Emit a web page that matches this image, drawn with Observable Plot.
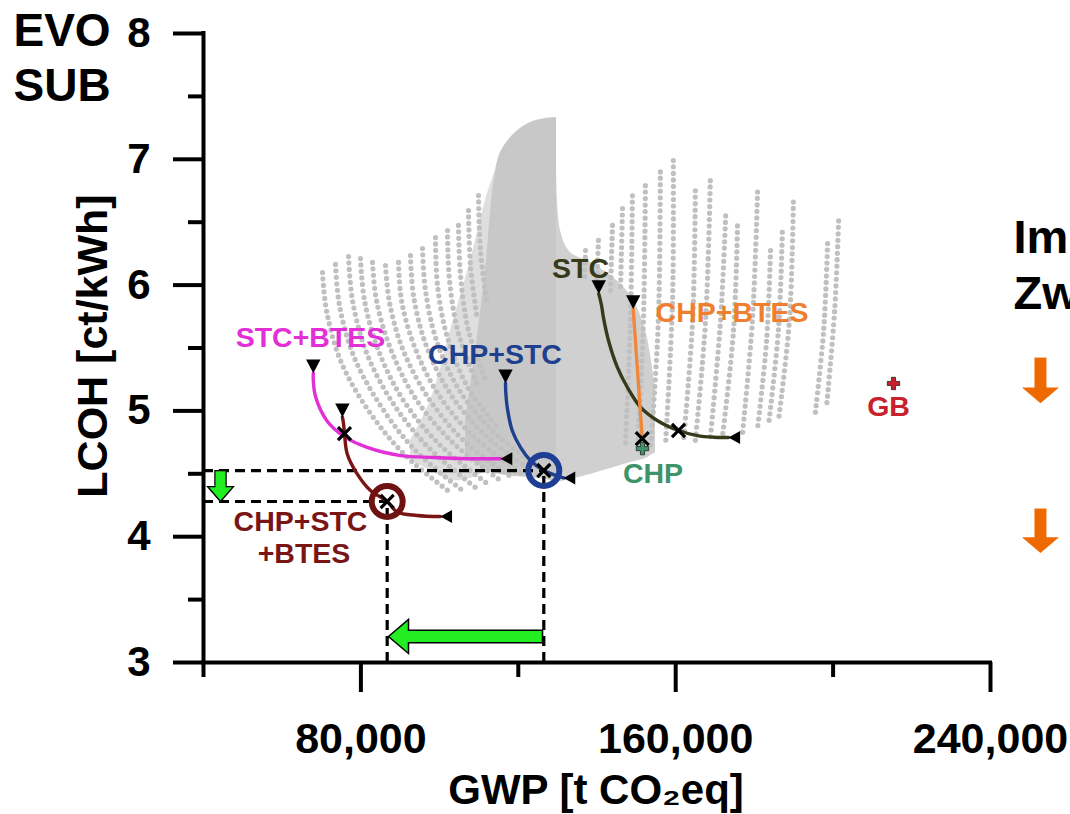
<!DOCTYPE html>
<html>
<head>
<meta charset="utf-8">
<script src="https://cdn.jsdelivr.net/npm/d3@7"></script>
<script src="https://cdn.jsdelivr.net/npm/@observablehq/plot@0.6"></script>
<style>
  html, body { margin: 0; padding: 0; background: #ffffff; }
  #chart { width: 1070px; height: 814px; overflow: hidden; }
</style>
</head>
<body>
<div id="chart"></div>
<script>
// ---------------- DATA ----------------
const xMajor = [80000, 160000, 240000];
const xMinor = [40000, 120000, 200000];
const yMajor = [3, 4, 5, 6, 7, 8];
const yMinor = [3.5, 4.5, 5.5, 6.5, 7.5];

// dense core of the solution cloud (GWP, LCOH lower / upper envelope)
const coreGwp = [106580, 109120, 111660, 113700, 115480, 119290, 123100, 126910, 129710];
const coreLo  = [4.645, 4.590, 4.542, 4.510, 4.494, 4.479, 4.471, 4.455, 4.439];
const coreHi  = [4.924, 5.480, 6.116, 6.792, 7.054, 7.213, 7.293, 7.324, 7.332];
// denser transition zone left of the core
const fringeGwp = [92600, 97690, 102770, 107850, 111660, 114200];
const fringeLo  = [4.606, 4.526, 4.447, 4.463, 4.510, 4.510];
const fringeHi  = [4.765, 5.083, 5.639, 6.196, 6.673, 6.911];
// slightly less dense part right of the core
const midGwp = [129710, 130720, 133260, 138350, 143430, 148510, 152330, 154870];
const midLo  = [4.439, 4.439, 4.455, 4.494, 4.542, 4.590, 4.622, 4.669];
const midHi  = [7.300, 6.434, 6.259, 6.180, 6.076, 5.917, 5.639, 5.162];

// dotted families of solutions (each list = one family of points)
const cloudGwp = [
  [70240, 71260, 74820, 81930, 91330, 102770],
  [73550, 74560, 78120, 84980, 93880, 105820],
  [76850, 77870, 81420, 88030, 97180, 109120],
  [79900, 80920, 84470, 90830, 100230, 112430],
  [82950, 83960, 87520, 93880, 103280, 115480],
  [86250, 87270, 90570, 96930, 106070, 118020],
  [89560, 90320, 93620, 99720, 108870, 120560],
  [92600, 93370, 96420, 102520, 111410, 122590],
  [95650, 96420, 99210, 105060, 113440, 124370],
  [98960, 99470, 102010, 107340, 114970],
  [102010, 102520, 104800, 109630],
  [104800, 105310, 107340, 111660],
  [107340, 107850, 109630],
  [109890, 110390, 111920],
  [137080, 136820],
  [140380, 139870],
  [143940, 143430],
  [146480, 145970],
  [149000, 148500, 147200],
  [152300, 151800, 150300],
  [156100, 155600, 153600],
  [159400, 159200, 157400],
  [165000, 164300, 162000],
  [168800, 167600, 165000],
  [172700, 171400, 168800],
  [175700, 174700, 171900],
  [180800, 179500, 177000],
  [184100, 183100, 180800],
  [187100, 186100, 183600],
  [189900, 188900, 186100],
  [198600, 197600, 195500],
  [201400, 200400, 198300]
];
const cloudLcoh = [
  [6.100, 5.798, 5.401, 5.003, 4.645, 4.351],
  [6.164, 5.838, 5.440, 5.043, 4.685, 4.367],
  [6.227, 5.878, 5.464, 5.067, 4.709, 4.391],
  [6.211, 5.878, 5.480, 5.083, 4.725, 4.415],
  [6.180, 5.878, 5.496, 5.099, 4.749, 4.447],
  [6.156, 5.862, 5.496, 5.114, 4.765, 4.479],
  [6.180, 5.878, 5.512, 5.130, 4.789, 4.510],
  [6.235, 5.917, 5.536, 5.146, 4.812, 4.542],
  [6.291, 5.957, 5.560, 5.162, 4.844, 4.566],
  [6.378, 5.997, 5.583, 5.178, 4.860],
  [6.434, 6.037, 5.615, 5.202],
  [6.474, 6.076, 5.639, 5.242],
  [6.593, 6.156, 5.719],
  [6.712, 6.275, 5.878],
  [6.275, 6.037],
  [6.355, 5.957],
  [6.474, 5.957],
  [6.609, 5.957],
  [6.71, 5.72, 4.725],
  [6.79, 5.72, 4.685],
  [6.90, 5.72, 4.685],
  [6.99, 5.88, 4.725],
  [6.75, 5.72, 4.765],
  [6.83, 5.72, 4.765],
  [6.55, 5.72, 4.78],
  [6.47, 5.64, 4.80],
  [6.74, 5.72, 4.83],
  [6.275, 5.56, 4.86],
  [6.42, 5.64, 4.89],
  [6.66, 5.72, 4.92],
  [6.33, 5.64, 4.99],
  [6.51, 5.80, 5.02]
];

// transformation pathways
const stcBtesGwp  = [67900, 67900, 68500, 71400, 75600, 81600, 90100, 98500, 107000, 115500];
const stcBtesLcoh = [5.30, 5.24, 5.11, 4.92, 4.80, 4.71, 4.645, 4.63, 4.62, 4.62];
const trioGwp  = [75300, 75580, 75830, 76510, 79050, 82440, 86680, 89220, 94300, 100200];
const trioLcoh = [4.95, 4.90, 4.82, 4.66, 4.50, 4.367, 4.28, 4.196, 4.169, 4.16];
const chpStcGwp  = [116750, 116800, 117180, 118450, 120560, 123100, 126480, 131500];
const chpStcLcoh = [5.22, 5.16, 5.03, 4.844, 4.71, 4.606, 4.526, 4.467];
const stcGwp  = [140450, 141140, 141650, 142920, 145130, 147670, 151050, 155300, 160710, 165460, 169610, 173400];
const stcLcoh = [5.93, 5.84, 5.74, 5.56, 5.35, 5.19, 5.03, 4.924, 4.844, 4.804, 4.791, 4.789];
const chpBtesGwp  = [149200, 151500];
const chpBtesLcoh = [5.81, 4.78];

const pathNames  = ["STC+BTES", "CHP+STC+BTES", "CHP+STC", "STC", "CHP+BTES"];
const pathColors = ["#e22fd6", "#7a1515", "#1f3f8f", "#37391b", "#f0883c"];
const pathGwp  = [stcBtesGwp, trioGwp, chpStcGwp, stcGwp, chpBtesGwp];
const pathLcoh = [stcBtesLcoh, trioLcoh, chpStcLcoh, stcLcoh, chpBtesLcoh];
const pathHasEnd = [true, true, true, true, false];

// intermediate (x) markers
const crossGwp  = [75830, 86680, 126480, 160710, 151500];
const crossLcoh = [4.82, 4.28, 4.526, 4.844, 4.78];

// highlighted optima (circled)
const optGwp   = [86680, 126480];
const optLcoh  = [4.28, 4.526];
const optColor = ["#6e1212", "#1f3f94"];

// reference systems
const refNames = ["CHP", "GB"];
const refGwp   = [151560, 215350];
const refLcoh  = [4.70, 5.218];
const refColor = ["#3d9468", "#c8202c"];

// labels
const labelText  = ["STC+BTES", "CHP+STC", "CHP+STC", "+BTES", "STC", "CHP+BTES", "CHP", "GB"];
const labelGwp   = [67190, 114080, 64650, 65540, 135810, 174310, 154230, 214080];
const labelLcoh  = [5.504, 5.369, 4.049, 3.787, 6.06, 5.703, 4.423, 4.963];
const labelColor = ["#e22fd6", "#1f3f8f", "#7a1515", "#7a1515", "#37391b", "#ef7f2f", "#3d9468", "#c8202c"];

// improvement arrows
const gwpShift  = [{lcoh: 3.207, from: 126480, to: 87000}];
const lcohShift = [{gwp: 44320, from: 4.526, to: 4.28}];
const sideArrowGwp  = [252700, 252700];
const sideArrowFrom = [5.42, 4.22];
const sideArrowTo   = [5.06, 3.87];

const cornerText = ["EVO", "SUB"];
const sideText   = ["Im", "Zw"];

// ---------------- BUILD ----------------
const FONT = "'Liberation Sans', Arial, Helvetica, sans-serif";

const env = (g, lo, hi) => g.map((x, i) => ({gwp: x, lo: lo[i], hi: hi[i]}));
const coreRows = env(coreGwp, coreLo, coreHi);
const fringeRows = env(fringeGwp, fringeLo, fringeHi);
const midRows  = env(midGwp, midLo, midHi);
const cloudRows = cloudGwp.flatMap((arr, k) => arr.map((g, i) => ({id: k, gwp: g, lcoh: cloudLcoh[k][i]})));

const triDown = {draw(ctx, size) { const r = Math.sqrt(size / Math.PI);
  ctx.moveTo(0, 0); ctx.lineTo(-r, -1.9 * r); ctx.lineTo(r, -1.9 * r); ctx.closePath(); }};
const triLeft = {draw(ctx, size) { const r = Math.sqrt(size / Math.PI);
  ctx.moveTo(0, 0); ctx.lineTo(1.8 * r, -r); ctx.lineTo(1.8 * r, r); ctx.closePath(); }};
function headSymbol(dir, ratio) {
  return {draw(ctx, size) { const r = Math.sqrt(size / Math.PI), L = ratio * r;
    ctx.moveTo(0, 0);
    if (dir === "left") { ctx.lineTo(L, -r); ctx.lineTo(L, r); }
    else { ctx.lineTo(-r, -L); ctx.lineTo(r, -L); }
    ctx.closePath(); }};
}

const marks = [];
// cloud
marks.push(Plot.areaY(fringeRows, {x: "gwp", y1: "lo", y2: "hi", fill: "#dedede", curve: "catmull-rom"}));
marks.push(Plot.areaY(midRows, {x: "gwp", y1: "lo", y2: "hi", fill: "#d0d0d0", curve: "catmull-rom"}));
marks.push(Plot.areaY(coreRows, {x: "gwp", y1: "lo", y2: "hi", fill: "#c8c8c8", curve: "catmull-rom"}));
marks.push(Plot.line(cloudRows, {x: "gwp", y: "lcoh", z: "id", stroke: "#c0c0c0", strokeWidth: 5.2,
  strokeDasharray: "0,6.5", strokeLinecap: "round", curve: "catmull-rom"}));

// dashed guide lines to the axes
const optRows = optGwp.map((g, i) => ({gwp: g, lcoh: optLcoh[i], color: optColor[i]}));
marks.push(Plot.ruleY(optRows, {y: "lcoh", x1: xMinor[0], x2: "gwp", stroke: "black", strokeWidth: 3.2, strokeDasharray: "10,6"}));
marks.push(Plot.ruleX(optRows, {x: "gwp", y1: yMajor[0], y2: "lcoh", stroke: "black", strokeWidth: 3.2, strokeDasharray: "10,6"}));

// pathways
pathNames.forEach((name, k) => {
  const rows = pathGwp[k].map((g, i) => ({gwp: g, lcoh: pathLcoh[k][i]}));
  marks.push(Plot.line(rows, {x: "gwp", y: "lcoh", stroke: pathColors[k], strokeWidth: 3.4,
    curve: k === 4 ? "linear" : "catmull-rom"}));
  marks.push(Plot.dot([rows[0]], {x: "gwp", y: "lcoh", symbol: triDown, r: 7.2, fill: "black", stroke: "none"}));
  if (pathHasEnd[k]) marks.push(Plot.dot([rows[rows.length - 1]], {x: "gwp", y: "lcoh", symbol: triLeft, r: 6.5, fill: "black", stroke: "none"}));
});

// x markers
const crossRows = crossGwp.map((g, i) => ({gwp: g, lcoh: crossLcoh[i]}));
marks.push(Plot.dot(crossRows, {x: "gwp", y: "lcoh", symbol: "times", r: 6, stroke: "black", strokeWidth: 3.2}));

// circles around optima
optRows.forEach(d => marks.push(Plot.dot([d], {x: "gwp", y: "lcoh", r: 15.5, stroke: d.color, strokeWidth: 6, fill: "none"})));

// reference systems
refNames.forEach((n, i) => marks.push(Plot.dot([{gwp: refGwp[i], lcoh: refLcoh[i]}], {x: "gwp", y: "lcoh", symbol: "cross", r: 5.2,
  fill: refColor[i], stroke: "#222", strokeWidth: 0.8})));

// GWP improvement arrow (left)
const ga = gwpShift.map(d => ({...d, blackEnd: d.to + 0.12 * (d.from - d.to), greenStart: d.from - 0.01 * (d.from - d.to), greenEnd: d.to + 0.08 * (d.from - d.to)}));
marks.push(Plot.ruleY(ga, {y: "lcoh", x1: "from", x2: "blackEnd", stroke: "black", strokeWidth: 14}));
marks.push(Plot.dot(ga, {x: "to", y: "lcoh", symbol: headSymbol("left", 1.18), r: 17, fill: "#22ee22", stroke: "black", strokeWidth: 1.5}));
marks.push(Plot.ruleY(ga, {y: "lcoh", x1: "greenStart", x2: "greenEnd", stroke: "#22ee22", strokeWidth: 11}));

// LCOH improvement arrow (down)
const la = lcohShift.map(d => ({...d, blackEnd: d.to + 0.49 * (d.from - d.to), greenStart: d.from - 0.04 * (d.from - d.to), greenEnd: d.to + 0.3 * (d.from - d.to)}));
marks.push(Plot.ruleX(la, {x: "gwp", y1: "from", y2: "blackEnd", stroke: "black", strokeWidth: 12.5}));
marks.push(Plot.dot(la, {x: "gwp", y: "to", symbol: headSymbol("down", 1.15), r: 13, fill: "#22ee22", stroke: "black", strokeWidth: 1.3}));
marks.push(Plot.ruleX(la, {x: "gwp", y1: "greenStart", y2: "greenEnd", stroke: "#22ee22", strokeWidth: 10}));

// orange arrows of the neighbouring panel
const sa = sideArrowGwp.map((g, i) => ({gwp: g, from: sideArrowFrom[i], to: sideArrowTo[i], bodyEnd: sideArrowTo[i] + 0.3 * (sideArrowFrom[i] - sideArrowTo[i])}));
marks.push(Plot.ruleX(sa, {x: "gwp", y1: "from", y2: "bodyEnd", stroke: "#ee6a00", strokeWidth: 12}));
marks.push(Plot.dot(sa, {x: "gwp", y: "to", symbol: headSymbol("down", 0.86), r: 18.5, fill: "#ee6a00", stroke: "none"}));

// labels
const labelRows = labelText.map((t, i) => ({t, gwp: labelGwp[i], lcoh: labelLcoh[i], c: labelColor[i]}));
labelRows.forEach(d => marks.push(Plot.text([d], {x: "gwp", y: "lcoh", text: "t", fill: d.c, fontSize: 28.5, fontWeight: "bold",
  textAnchor: "middle", lineAnchor: "bottom"})));

// axes
marks.push(Plot.ruleX([xMinor[0]], {y1: yMajor[0], y2: yMajor[yMajor.length - 1], stroke: "black", strokeWidth: 4, strokeLinecap: "square"}));
marks.push(Plot.ruleY([yMajor[0]], {x1: xMinor[0], x2: xMajor[xMajor.length - 1], stroke: "black", strokeWidth: 4, strokeLinecap: "square"}));
marks.push(Plot.axisY(yMajor, {tickSize: 30, tickPadding: 23, tickFormat: d => String(d), fontSize: 42, fontWeight: "bold", strokeWidth: 4, label: null}));
marks.push(Plot.axisY(yMinor, {tickSize: 15, tickFormat: () => "", strokeWidth: 4, label: null}));
marks.push(Plot.axisX(xMajor, {tickSize: 30, tickPadding: 30, tickFormat: d3.format(","), fontSize: 43, fontWeight: "bold", strokeWidth: 4, label: null}));
marks.push(Plot.axisX(xMinor, {tickSize: 15, tickFormat: () => "", strokeWidth: 4, label: null}));

// axis titles
marks.push(Plot.text(["GWP [t CO\u2082eq]"], {frameAnchor: "bottom", dy: 141, dx: -1, lineAnchor: "bottom", textAnchor: "middle", fontSize: 42, fontWeight: "bold", fill: "black"}));
marks.push(Plot.text(["LCOH [ct/kWh]"], {frameAnchor: "left", dx: -110, dy: -2, rotate: -90, lineAnchor: "middle", textAnchor: "middle", fontSize: 43, fontWeight: "bold", fill: "black"}));

// corner texts
marks.push(Plot.text([cornerText[0]], {frameAnchor: "top-left", dx: -190, dy: 12, textAnchor: "start", lineAnchor: "bottom", fontSize: 46, fontWeight: "bold", fill: "black"}));
marks.push(Plot.text([cornerText[1]], {frameAnchor: "top-left", dx: -190, dy: 67, textAnchor: "start", lineAnchor: "bottom", fontSize: 46, fontWeight: "bold", fill: "black"}));
marks.push(Plot.text([sideText[0]], {frameAnchor: "top-right", dx: 23, dy: 219, textAnchor: "start", lineAnchor: "bottom", fontSize: 47, fontWeight: "bold", fill: "black"}));
marks.push(Plot.text([sideText[1]], {frameAnchor: "top-right", dx: 23, dy: 275, textAnchor: "start", lineAnchor: "bottom", fontSize: 47, fontWeight: "bold", fill: "black"}));

const chart = Plot.plot({
  width: 1070,
  height: 814,
  marginLeft: 203,
  marginRight: 80,
  marginTop: 33,
  marginBottom: 152,
  style: {background: "white", overflow: "visible", fontFamily: FONT},
  x: {domain: [xMinor[0], xMajor[xMajor.length - 1]], axis: null},
  y: {domain: [yMajor[0], yMajor[yMajor.length - 1]], axis: null},
  marks
});
document.getElementById("chart").appendChild(chart);
</script>
</body>
</html>
